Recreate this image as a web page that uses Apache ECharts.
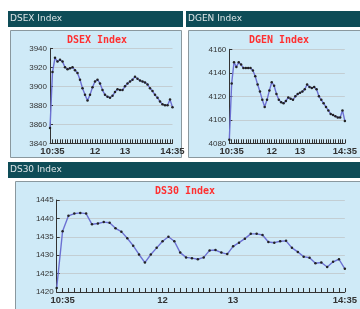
<!DOCTYPE html>
<html>
<head>
<meta charset="utf-8">
<script src="https://cdn.jsdelivr.net/npm/echarts@6/dist/echarts.min.js"></script>
<style>
  html, body { margin: 0; padding: 0; background: #fff; }
  #chart { width: 360px; height: 309px; }
</style>
</head>
<body>
<div id="chart"></div>
<script>
// 5-minute snapshots, 10:30 .. 14:35
const times = [
  '10:30','10:35','10:40','10:45','10:50','10:55','11:00','11:05','11:10','11:15',
  '11:20','11:25','11:30','11:35','11:40','11:45','11:50','11:55','12:00','12:05',
  '12:10','12:15','12:20','12:25','12:30','12:35','12:40','12:45','12:50','12:55',
  '13:00','13:05','13:10','13:15','13:20','13:25','13:30','13:35','13:40','13:45',
  '13:50','13:55','14:00','14:05','14:10','14:15','14:20','14:25','14:30','14:35'
];
const timeLabels = { '10:35': '10:35', '12:00': '12', '13:00': '13', '14:35': '14:35' };

const dsex = [
  3856, 3915, 3930, 3926, 3928, 3926, 3920, 3918, 3919, 3920,
  3917, 3914, 3907, 3898, 3891, 3885, 3891, 3899, 3905, 3907,
  3903, 3896, 3891, 3889, 3888, 3890, 3894, 3897, 3896, 3896,
  3900, 3903, 3905, 3907, 3910, 3908, 3906, 3905, 3904, 3902,
  3898, 3895, 3891, 3888, 3884, 3881, 3880, 3880, 3886, 3878
];
const dgen = [
  4083, 4131, 4149, 4145, 4149, 4147, 4144, 4144, 4144, 4144,
  4142, 4137, 4130, 4124, 4117, 4111, 4117, 4125, 4132, 4129,
  4122, 4117, 4115, 4114, 4116, 4119, 4118, 4117, 4120, 4122,
  4123, 4124, 4126, 4130, 4128, 4127, 4128, 4126, 4120, 4117,
  4114, 4111, 4108, 4105, 4104, 4103, 4102, 4102, 4108, 4099
];
const ds30 = [
  1421.1, 1436.5, 1440.7, 1441.3, 1441.5, 1441.3, 1438.4, 1438.6, 1439.0, 1438.8,
  1437.3, 1436.4, 1434.6, 1432.6, 1430.2, 1428.0, 1430.2, 1432.0, 1433.8, 1435.0,
  1433.8, 1430.7, 1429.4, 1429.2, 1428.9, 1429.4, 1431.3, 1431.4, 1430.7, 1430.3,
  1432.4, 1433.4, 1434.5, 1435.8, 1435.8, 1435.5, 1433.6, 1433.4, 1433.8, 1433.9,
  1432.0, 1430.9, 1429.6, 1429.3, 1427.8, 1428.0, 1426.8, 1428.2, 1428.9, 1426.3
];

const teal = '#0e4c57';
const boxFill = '#cfeaf7';
const boxLine = '#8a989e';

function xAxis(gridIndex) {
  return {
    type: 'category', gridIndex: gridIndex, data: times, boundaryGap: false,
    axisLine: { lineStyle: { color: '#333', width: 1 } },
    axisTick: { interval: 0, inside: true, length: 4, lineStyle: { color: '#333' } },
    axisLabel: {
      interval: 0, margin: 3, color: '#333', fontSize: 9.5, fontWeight: 'bold',
      fontFamily: 'Liberation Sans',
      formatter: function (v) { return timeLabels[v] || ''; }
    },
    splitLine: { show: false }
  };
}
function yAxis(gridIndex, min, max, step) {
  return {
    type: 'value', gridIndex: gridIndex, min: min, max: max, interval: step,
    axisLine: { show: true, lineStyle: { color: '#333', width: 1 } },
    axisTick: { show: true, inside: true, length: 3, lineStyle: { color: '#333' } },
    axisLabel: {
      margin: 3, color: '#333', fontSize: 8, fontFamily: 'Liberation Sans',
      formatter: function (v) { return String(v); }
    },
    splitLine: { lineStyle: { color: '#c3ced3', width: 1 } }
  };
}
function series(i, data) {
  return {
    type: 'line', xAxisIndex: i, yAxisIndex: i, data: data,
    symbol: 'circle', symbolSize: 2.5,
    itemStyle: { color: '#222' },
    lineStyle: { color: '#6c70d2', width: 1.4 },
    animation: false
  };
}
function header(x, y, w, label) {
  return [
    { type: 'rect', z: -20, shape: { x: x, y: y, width: w, height: 16 }, style: { fill: teal } },
    { type: 'text', z: -19, x: x + 2, y: y + 8,
      style: { text: label, fill: '#dde5e7', font: '9px "DejaVu Sans"', textVerticalAlign: 'middle' } }
  ];
}
function box(x, y, w, h) {
  return { type: 'rect', z: -20, shape: { x: x, y: y, width: w, height: h },
    style: { fill: boxFill, stroke: boxLine, lineWidth: 1 } };
}
function title(cx, cy, label) {
  return { type: 'text', z: 10, x: cx, y: cy,
    style: { text: label, fill: '#ff2f2f', font: 'bold 10px "DejaVu Sans Mono"',
      textAlign: 'center', textVerticalAlign: 'middle' } };
}

const chart = echarts.init(document.getElementById('chart'));
chart.setOption({
  backgroundColor: '#fff',
  animation: false,
  graphic: [].concat(
    header(8, 11, 175, 'DSEX Index'),
    header(186, 11, 174, 'DGEN Index'),
    header(8, 162, 352, 'DS30 Index'),
    [
      box(10.5, 30.5, 171, 127),
      box(188.5, 30.5, 190, 127),
      box(15.5, 181.5, 360, 140),
      title(97, 40, 'DSEX Index'),
      title(279, 40, 'DGEN Index'),
      title(185, 191, 'DS30 Index')
    ]
  ),
  grid: [
    { left: 50, top: 48.3, width: 122.5, height: 95 },
    { left: 229.3, top: 49.3, width: 129.4, height: 94 },
    { left: 56.7, top: 200, width: 297.3, height: 92 }
  ],
  xAxis: [xAxis(0), xAxis(1), xAxis(2)],
  yAxis: [
    yAxis(0, 3840, 3940, 20),
    yAxis(1, 4080, 4160, 20),
    yAxis(2, 1420, 1445, 5)
  ],
  series: [series(0, dsex), series(1, dgen), series(2, ds30)]
});
</script>
</body>
</html>
